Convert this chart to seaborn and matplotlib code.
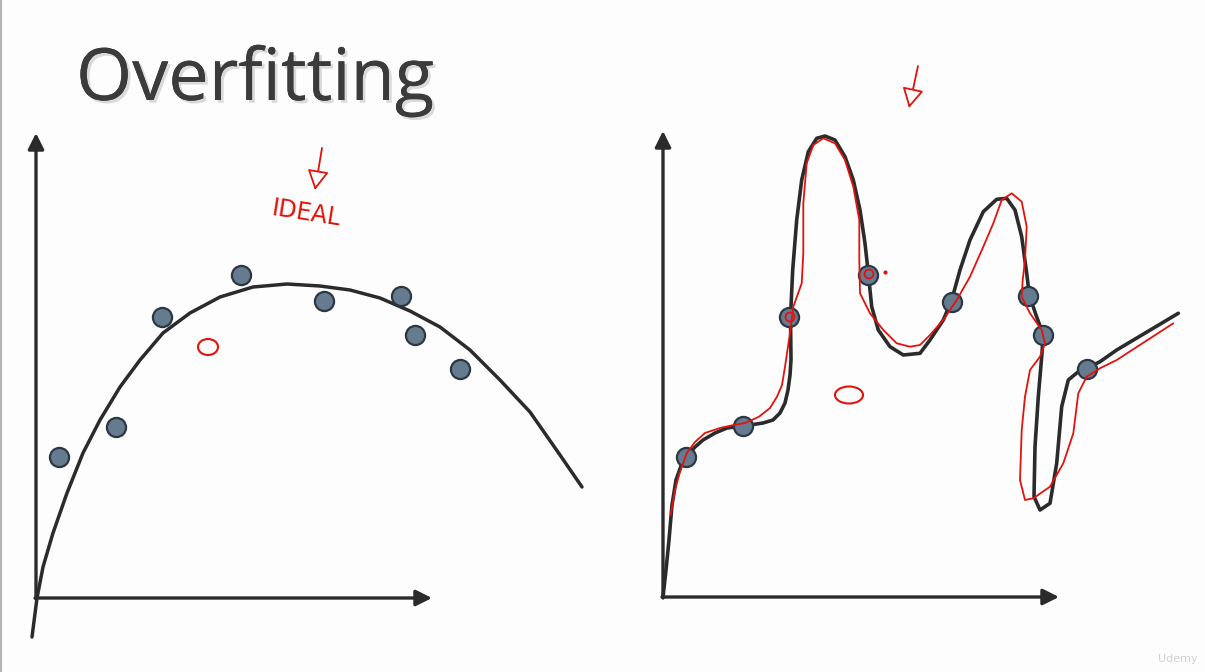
import matplotlib
matplotlib.use("Agg")
import matplotlib.pyplot as plt
import matplotlib.patheffects as pe
from matplotlib.patches import Ellipse
import seaborn as sns

# ---------------------------------------------------------------------------
# Data (panel units: origin of each sketch at (0, 0), y upwards)
# ---------------------------------------------------------------------------

TITLE = "Overfitting"

# left sketch: well fitted model
left_pts_x = [23, 80, 126, 205, 288, 365, 379, 424]
left_pts_y = [141, 171, 281, 323, 297, 302, 263, 229]
left_fit_x = [-4, 1, 7, 17, 31, 47, 64, 84, 104, 127, 154, 184, 217, 251, 284, 314,
              344, 374, 404, 434, 464, 494, 524, 546]
left_fit_y = [-39, 0, 31, 65, 105, 145, 178, 211, 238, 265, 285, 301, 311, 314, 312, 308,
              300, 287, 271, 248, 218, 186, 143, 111]

# right sketch: overfitted model
right_pts_x = [23, 80, 126, 205, 289, 365, 380, 424]
right_pts_y = [140, 171, 280, 322, 295, 301, 262, 228]
right_fit_x = [0, 3, 6, 9, 13, 18, 23, 32, 40, 52, 64, 80, 100, 110, 117, 122, 125, 127,
               128, 127.5, 129.7, 133.7, 138.7, 145.3, 153.7, 162, 172, 182, 190.3, 197,
               202, 205.3, 208.7, 215.3, 227, 240.3, 257, 267, 280.3, 288.7, 297, 307,
               320.3, 333.7, 343.7, 352, 358.7, 363.7, 366.3, 373, 380.3, 378.7, 375.3,
               372, 371, 377, 387, 393.7, 398.7, 405.3, 415.3, 423.7, 437, 453.7, 515.3]
right_fit_y = [0, 27, 57, 92, 117, 131, 140, 150, 157, 164, 169, 171, 174, 177, 184, 194,
               207, 222, 237, 280, 327, 377, 417, 445.3, 458.7, 461, 457, 440.3, 417, 387,
               353.7, 323.7, 290.3, 267, 250.3, 242, 243.7, 257, 277, 297, 327, 357,
               385.3, 397.7, 398.7, 387, 360.3, 323.7, 302, 282, 262, 240.3, 200.3,
               150.3, 100.3, 87, 93.7, 133.7, 190.3, 217, 225.3, 228.7, 235.3, 247, 283.7]
# red pen trace drawn over the overfitted curve
pen_x = [7.6, 12, 16.6, 23.8, 32, 42, 57, 70.7, 82, 96, 107, 114, 119, 122, 127, 130.3,
         138.7, 140.3, 140.3, 143.7, 150.3, 160.3, 172, 182, 190.3, 196.3, 196.3, 197,
         207, 220.3, 233.7, 247, 257, 267, 280.3, 293.7, 307, 320.3, 330.3, 338.7,
         348.7, 358.7, 363.7, 362, 359.7, 358.7, 367, 378.7, 382, 377, 367, 362,
         358.7, 357, 362, 370.3, 387, 400.3, 410.3, 415.3, 423.7, 437, 453.7, 510.3]
pen_y = [82, 107, 124, 144, 155, 164, 169, 172, 174, 180.3, 189, 200.3, 212, 230.3, 264,
         290.3, 313.7, 343.7, 393.7, 433.7, 452, 458.7, 453.7, 437, 410.3, 377, 337,
         303.7, 283.7, 267, 253.7, 250.3, 252, 262, 277, 297, 320.3, 350.3, 373.7, 397,
         403.7, 395.3, 370.3, 337, 317, 300.3, 283.7, 267, 253.7, 240.3, 227, 200.3,
         167, 117, 97, 98.7, 110.3, 133.7, 163.7, 203.7, 220.3, 228.7, 237, 273.7]

# ---------------------------------------------------------------------------
# Figure
# ---------------------------------------------------------------------------

W, H = 1205, 672
INK = "#2b2b2b"
PEN = "#e3120b"
DOT_FACE = "#667a90"
DOT_EDGE = "#2c3744"

sns.set_theme(style="white")
fig = plt.figure(figsize=(W / 100, H / 100), dpi=100)
fig.patch.set_facecolor("#fdfdfd")

# left panel: origin at pixel (36, 598); right panel: origin at pixel (663, 597)
ax_l = fig.add_axes([0, 0, 600 / W, 1])
ax_l.set_xlim(-36, 564)
ax_l.set_ylim(-(H - 598), 598)
ax_r = fig.add_axes([600 / W, 0, 605 / W, 1])
ax_r.set_xlim(-63, 542)
ax_r.set_ylim(-(H - 597), 597)


def draw_axes(ax, y_top, x_right):
    arrow = dict(arrowstyle="-|>", color=INK, lw=2.4, mutation_scale=24,
                 shrinkA=0, shrinkB=0)
    ax.annotate("", xy=(0, y_top), xytext=(0, -1), arrowprops=arrow)
    ax.annotate("", xy=(x_right, 0), xytext=(-1, 0), arrowprops=arrow)


def draw_curve(ax, xs, ys, color, lw, z):
    sns.lineplot(x=xs, y=ys, ax=ax, sort=False, estimator=None, color=color, lw=lw,
                 zorder=z, solid_joinstyle="round", solid_capstyle="round")


def draw_points(ax, xs, ys):
    sns.scatterplot(x=xs, y=ys, ax=ax, s=190, color=DOT_FACE, edgecolor=DOT_EDGE,
                    linewidth=1.6, zorder=4, legend=False)


def pen_arrow(ax, start, tip):
    ax.annotate("", xy=tip, xytext=start,
                arrowprops=dict(arrowstyle="-|>,head_length=0.55,head_width=0.3",
                                fc="white", ec=PEN, lw=1.3, mutation_scale=22,
                                shrinkA=0, shrinkB=0))


# left sketch
draw_axes(ax_l, 465, 396)
draw_curve(ax_l, left_fit_x, left_fit_y, INK, 2.5, 3)
draw_points(ax_l, left_pts_x, left_pts_y)
pen_arrow(ax_l, (286, 450), (279, 408))
ax_l.text(270, 384, "IDEAL", color=PEN, fontsize=17, rotation=-9, ha="center",
          va="center", family=["Liberation Sans Narrow", "DejaVu Sans"])
ax_l.add_patch(Ellipse((172, 251), 20, 16, fill=False, ec=PEN, lw=1.5))

# right sketch
draw_axes(ax_r, 466, 396)
draw_curve(ax_r, right_fit_x, right_fit_y, INK, 2.6, 3)
draw_points(ax_r, right_pts_x, right_pts_y)
draw_curve(ax_r, pen_x, pen_y, PEN, 1.3, 5)
pen_arrow(ax_r, (255, 531), (246, 489))
ax_r.add_patch(Ellipse((186, 202), 28, 17, fill=False, ec=PEN, lw=1.5))
ax_r.add_patch(Ellipse((127, 280), 9, 9, fill=False, ec=PEN, lw=1.3, zorder=6))
ax_r.add_patch(Ellipse((206, 323), 9, 9, fill=False, ec=PEN, lw=1.3, zorder=6))
ax_r.plot([222], [325], "o", color=PEN, ms=2, zorder=6)

for ax in (ax_l, ax_r):
    ax.set_axis_off()
    for artist in ax.get_children():
        artist.set_clip_on(False)

title = fig.text(76 / W, 1 - 100 / H, TITLE, fontsize=52, color="#3b3b3b",
                 family=["Open Sans", "DejaVu Sans"], va="baseline")
title.set_path_effects([pe.withSimplePatchShadow(offset=(2, -2), shadow_rgbFace="#999999",
                                                 alpha=0.35), pe.Normal()])

# slide edge and watermark
fig.add_artist(plt.Line2D([1 / W, 1 / W], [0, 1], color="#b5b5b5", lw=1.5))
fig.text(1198 / W, 1 - 662 / H, "Udemy", fontsize=8, color="#d0d0d0", ha="right",
         va="baseline")

fig.savefig("out.png", dpi=100)
